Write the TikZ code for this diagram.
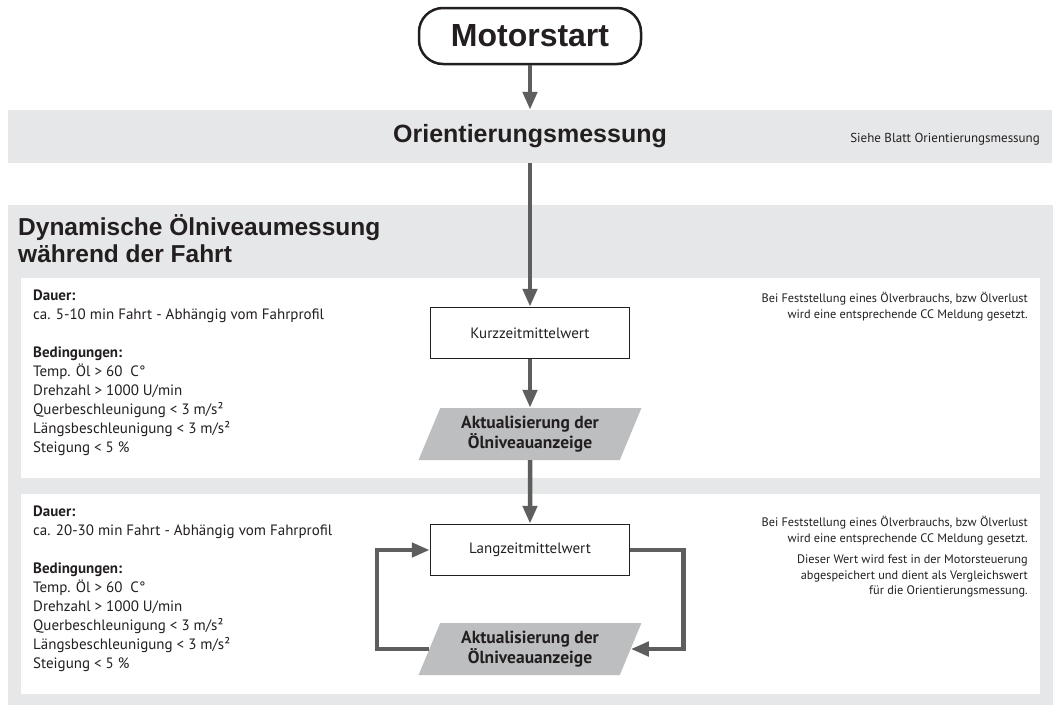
\documentclass[tikz,border=0pt]{standalone}
\usepackage{fontspec}
\usepackage{tikz}
\setmainfont{PT Sans}
\newfontfamily\headfont{Liberation Sans}
\usetikzlibrary{arrows.meta,shapes.geometric,positioning}
\definecolor{bandgrey}{HTML}{E6E7E8}
\definecolor{paragrey}{HTML}{BCBEC0}
\definecolor{arrowgrey}{HTML}{5E5E5E}
\definecolor{textcol}{HTML}{231F20}
\tikzset{
  arr/.style={draw=arrowgrey,line width=4.5pt,-{Triangle[length=18pt,width=14pt]}},
  startbox/.style={draw=textcol,line width=2.5pt,fill=white,rounded corners=24pt,
    minimum width=222pt,minimum height=56pt,font=\headfont\fontsize{32}{36}\selectfont\bfseries},
  valuebox/.style={draw=textcol,line width=1.5pt,fill=white,minimum width=199pt,
    minimum height=51pt,font=\fontsize{15}{16}\selectfont},
  updatebox/.style={trapezium,trapezium left angle=66,trapezium right angle=114,
    trapezium stretches=true,fill=paragrey,minimum width=223pt,minimum height=52pt,
    inner sep=1pt,align=center,font=\fontsize{17.5}{18}\selectfont\bfseries},
  infotext/.style={anchor=north west,inner sep=0pt,align=left,font=\fontsize{15}{19}\selectfont},
  notetext/.style={anchor=north east,inner sep=0pt,align=right,font=\fontsize{12.3}{15.5}\selectfont},
}
\begin{document}
\begin{tikzpicture}[x=1pt,y=-1pt,color=textcol]
\useasboundingbox (0,0) rectangle (1053,710);
\fill[white] (0,0) rectangle (1053,710);

% backgrounds
\node[fill=bandgrey,minimum width=1044pt,minimum height=53pt,inner sep=0pt,
      font=\headfont\fontsize{25}{28}\selectfont\bfseries] (orient) at (530,136.5) {Orientierungsmessung};
\node[anchor=east,inner sep=0pt,font=\fontsize{13}{14}\selectfont] (siehe) at (1040,139) {Siehe Blatt Orientierungsmessung};
\fill[bandgrey] (8,205) rectangle (1053,705);
\fill[white] (21,278) rectangle (1040,478);
\fill[white] (21,494) rectangle (1040,694);

\node[anchor=north west,inner sep=0pt,align=left,
      font=\headfont\fontsize{24.5}{27}\selectfont\bfseries] (title) at (18,214)
  {Dynamische Ölniveaumessung\\während der Fahrt};

% flow
\node[startbox] (start) at (530,36) {Motorstart};
\node[valuebox] (kurz) at (530,333) {Kurzzeitmittelwert};
\node[updatebox] (upd1) at (530,434) {Aktualisierung der\\Ölniveauanzeige};
\node[valuebox] (lang) at (530,550) {Langzeitmittelwert};
\node[updatebox] (upd2) at (530,649) {Aktualisierung der\\Ölniveauanzeige};

% left texts
\node[infotext] (info1) at (33,290)
  {\textbf{Dauer:}\\ca. 5-10 min Fahrt - Abhängig vom Fahrprofil\\[19pt]
   \textbf{Bedingungen:}\\Temp. Öl > 60\ \ C°\\Drehzahl > 1000 U/min\\
   Querbeschleunigung < 3 m/s²\\Längsbeschleunigung < 3 m/s²\\Steigung < 5 \%};
\node[infotext] (info2) at (33,506)
  {\textbf{Dauer:}\\ca. 20-30 min Fahrt - Abhängig vom Fahrprofil\\[19pt]
   \textbf{Bedingungen:}\\Temp. Öl > 60\ \ C°\\Drehzahl > 1000 U/min\\
   Querbeschleunigung < 3 m/s²\\Längsbeschleunigung < 3 m/s²\\Steigung < 5 \%};

% right notes
\node[notetext] (note1) at (1028,292)
  {Bei Feststellung eines Ölverbrauchs, bzw Ölverlust\\wird eine entsprechende CC Meldung gesetzt.};
\node[notetext] (note2) at (1028,516)
  {Bei Feststellung eines Ölverbrauchs, bzw Ölverlust\\wird eine entsprechende CC Meldung gesetzt.\\[6pt]
   Dieser Wert wird fest in der Motorsteuerung\\abgespeichert und dient als Vergleichswert\\für die Orientierungsmessung.};

% arrows
\draw[arr] (start) -- (orient);
\draw[arr] (orient) -- (kurz);
\draw[arr] (kurz) -- (upd1);
\draw[arr] (upd1) -- (lang);
\draw[arr] (lang.east) -- ++(53,0) |- (upd2.right side);
\draw[arr] (upd2.left side) -- ++(-52,0) |- (lang.west);
\end{tikzpicture}
\end{document}
